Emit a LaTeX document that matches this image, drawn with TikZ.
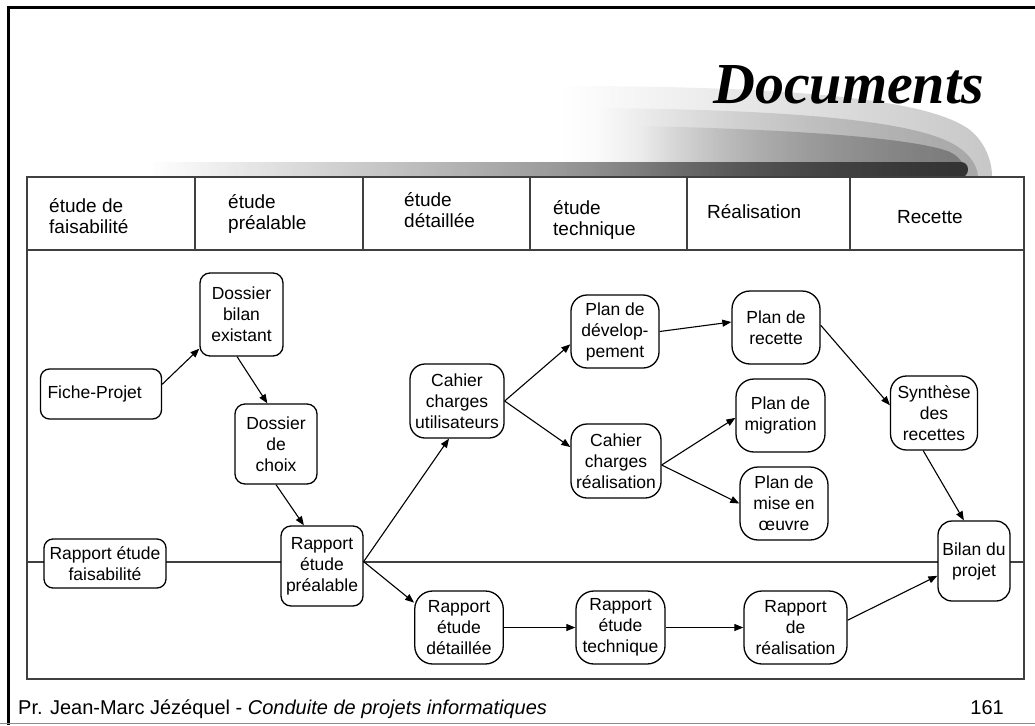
\documentclass[tikz,border=0pt]{standalone}
\usepackage{fontspec}
\setmainfont{Liberation Sans}
\newfontfamily\titlefont{Liberation Serif}
\usetikzlibrary{arrows.meta,fadings}
\tikzfading[name=fadeleft, left color=transparent!100, middle color=transparent!35, right color=transparent!0]
\begin{document}
\begin{tikzpicture}[x=1pt,y=-1pt,
  box/.style={draw=black, line width=1.3pt, fill=white, rounded corners=#1,
    align=center, inner sep=1pt, font=\fontsize{17.5}{21}\selectfont},
  box/.default=16pt,
  arr/.style={-{Triangle[length=9pt,width=7pt]}, line width=1.1pt},
  tline/.style={draw=black!75, line width=1.5pt},
  head/.style={anchor=base west, inner sep=0pt, font=\fontsize{19}{21}\selectfont},
  foottext/.style={inner sep=0pt, font=\fontsize{20}{22}\selectfont}
]
\useasboundingbox (0,0) rectangle (1035,725);

% swoosh behind title
\fill[black!22, path fading=fadeleft]
  (560,177) -- (560,86) .. controls (800,86) and (930,100) .. (970,130)
  .. controls (988,145) and (992,165) .. (992,177) -- cycle;
\fill[black!34, path fading=fadeleft]
  (600,177) -- (600,108) .. controls (820,110) and (920,124) .. (955,145)
  .. controls (972,155) and (978,168) .. (978,177) -- cycle;
\fill[black!52, path fading=fadeleft]
  (640,177) -- (640,126) .. controls (820,130) and (920,140) .. (950,152)
  .. controls (962,158) and (966,168) .. (966,177) -- cycle;
\fill[black!80, path fading=fadeleft, rounded corners=7pt]
  (150,177) -- (150,162) -- (968,162) -- (968,177) -- cycle;

% title
\node[anchor=base east, inner sep=0pt,
  font=\titlefont\bfseries\itshape\fontsize{58}{60}\selectfont] (title) at (984,103) {Documents};

% slide frame
\draw[line width=3pt] (8,725) -- (8,8) -- (1035,8);
\draw[black!45, line width=1.5pt] (0,723.5) -- (1035,723.5);

% table
\draw[tline] (27,177) rectangle (1024,679);
\draw[tline] (27,250) -- (1024,250);
\foreach \x in {195,363,530,687,850} \draw[tline] (\x,177) -- (\x,250);
\draw[tline] (27,562) -- (1024,562);

% header texts
\node[head] (h1) at (49,212.5) {\parbox[t]{140pt}{\raggedright étude de\\faisabilité}};
\node[head] (h2) at (228,208.5) {\parbox[t]{130pt}{\raggedright étude\\préalable}};
\node[head] (h3) at (404,206) {\parbox[t]{120pt}{\raggedright étude\\détaillée}};
\node[head] (h4) at (553,214) {\parbox[t]{125pt}{\raggedright étude\\technique}};
\node[head] (h5) at (707,218) {Réalisation};
\node[head] (h6) at (897,223) {Recette};

% nodes
\node[box=9pt, text width=107pt, align=left, inner xsep=7pt, minimum height=50pt] (fiche) at (101,394) {Fiche-Projet};
\node[box=10pt, minimum width=83pt, minimum height=83pt] (dbilan) at (241.5,314.5) {Dossier\\bilan\\existant};
\node[box=10pt, minimum width=82pt, minimum height=80pt] (dchoix) at (276,444) {Dossier\\de\\choix};
\node[box=10pt, minimum width=82pt, minimum height=80pt] (rpre) at (322,566) {Rapport\\étude\\préalable};
\node[box=9pt, minimum width=122pt, minimum height=49pt] (rfais) at (105,563.5) {Rapport étude\\faisabilité};
\node[box=15pt, minimum width=94pt, minimum height=74pt] (cutil) at (457,401) {Cahier\\charges\\utilisateurs};
\node[box, minimum width=88pt, minimum height=73pt] (pdev) at (615,331.5) {Plan de\\dévelop-\\pement};
\node[box=18pt, minimum width=88pt, minimum height=73pt] (precette) at (776,327.5) {Plan de\\recette};
\node[box=18pt, minimum width=89pt, minimum height=73pt] (pmig) at (780.5,415.5) {Plan de\\migration};
\node[box, minimum width=90pt, minimum height=74pt] (creal) at (616,461) {Cahier\\charges\\réalisation};
\node[box=18pt, minimum width=88pt, minimum height=73pt] (pmise) at (784,503.5) {Plan de\\mise en\\œuvre};
\node[box, minimum width=87pt, minimum height=74pt] (synth) at (934,413) {Synthèse\\des\\recettes};
\node[box=14pt, minimum width=72pt, minimum height=80pt] (bilan) at (974,561) {Bilan du\\projet};
\node[box=18pt, minimum width=88.5pt, minimum height=73pt] (rdet) at (459,627.5) {Rapport\\étude\\détaillée};
\node[box=18pt, minimum width=89pt, minimum height=73pt] (rtech) at (620.5,627.5) {Rapport\\étude\\technique};
\node[box=18pt, minimum width=103pt, minimum height=73pt] (rreal) at (795.5,627.5) {Rapport\\de\\réalisation};

% connectors
\draw[arr] (fiche.9) -- (dbilan.219);
\draw[arr] (dbilan.264) -- (dchoix.102);
\draw[arr] (dchoix.south) -- (rpre.114);
\draw[arr] (rpre.6) -- (cutil.258);
\draw[arr] (rpre.6) -- (rdet.151);
\draw[arr] (cutil.east) -- (pdev.196);
\draw[arr] (cutil.east) -- (creal.163);
\draw[arr] (pdev.east) -- (precette.173);
\draw[arr] (creal.355) -- (pmig.183);
\draw[arr] (creal.355) -- (pmise.west);
\draw[arr] (precette.3) -- (synth.170);
\draw[arr] (synth.254) -- (bilan.104);
\draw[arr] (rdet.east) -- (rtech.west);
\draw[arr] (rtech.east) -- (rreal.west);
\draw[arr] (rreal.8) -- (bilan.202);

% footer
\node[foottext, anchor=base west] (foot) at (18,714)
  {Pr. Jean-Marc Jézéquel - \textit{Conduite de projets informatiques}};
\node[foottext, anchor=base east] (num) at (1004,714) {161};
\end{tikzpicture}
\end{document}
